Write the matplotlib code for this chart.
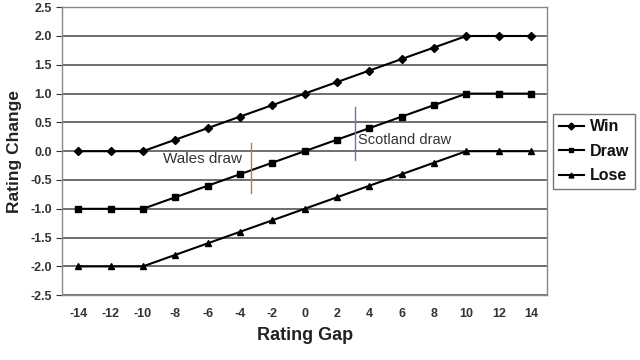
import matplotlib
matplotlib.use("Agg")
import matplotlib.pyplot as plt

plt.rcParams['font.family'] = ['Liberation Sans', 'DejaVu Sans']

rating_gap = [-14, -12, -10, -8, -6, -4, -2, 0, 2, 4, 6, 8, 10, 12, 14]
win = [0.0, 0.0, 0.0, 0.2, 0.4, 0.6, 0.8, 1.0, 1.2, 1.4, 1.6, 1.8, 2.0, 2.0, 2.0]
draw = [-1.0, -1.0, -1.0, -0.8, -0.6, -0.4, -0.2, 0.0, 0.2, 0.4, 0.6, 0.8, 1.0, 1.0, 1.0]
lose = [-2.0, -2.0, -2.0, -1.8, -1.6, -1.4, -1.2, -1.0, -0.8, -0.6, -0.4, -0.2, 0.0, 0.0, 0.0]
y_ticks = [-2.5, -2.0, -1.5, -1.0, -0.5, 0.0, 0.5, 1.0, 1.5, 2.0, 2.5]

wales_x = -3.3
wales_y = (-0.73, 0.14)
scotland_x = 3.1
scotland_y = (-0.16, 0.76)

fig = plt.figure(figsize=(6.4, 3.6), dpi=100)
ax = fig.add_axes([0.097, 0.18, 0.758, 0.80])

for yv in y_ticks:
    ax.axhline(yv, color='#555555', lw=1.2, zorder=1)

ax.plot(rating_gap, win, color='black', lw=1.5, marker='D', ms=4, label='Win', zorder=3)
ax.plot(rating_gap, draw, color='black', lw=1.5, marker='s', ms=5, label='Draw', zorder=3)
ax.plot(rating_gap, lose, color='black', lw=1.5, marker='^', ms=5, label='Lose', zorder=3)

ax.plot([wales_x, wales_x], wales_y, color='#c0785a', lw=1.0, zorder=4)
ax.plot([scotland_x, scotland_x], scotland_y, color='#5a7fa8', lw=1.0, zorder=4)
ax.text(-8.75, -0.13, 'Wales draw', fontsize=11, color='#333333', va='center', ha='left', zorder=5)
ax.text(3.3, 0.2, 'Scotland draw', fontsize=10.5, color='#333333', va='center', ha='left', zorder=5)

ax.set_xlim(-15, 15)
ax.set_ylim(-2.5, 2.5)
ax.set_xticks(rating_gap)
ax.set_xticklabels([str(v) for v in rating_gap])
ax.set_yticks(y_ticks)
ax.set_yticklabels([f'{v:.1f}' for v in y_ticks])
ax.tick_params(axis='x', length=0, labelsize=9, colors='#333333', pad=9)
ax.tick_params(axis='y', length=4, labelsize=9, colors='#333333', direction='out')
for lab in ax.get_xticklabels() + ax.get_yticklabels():
    lab.set_fontweight('bold')
for s in ax.spines.values():
    s.set_color('#888888')
    s.set_linewidth(1.0)

ax.set_xlabel('Rating Gap', fontsize=13, fontweight='bold', color='#222222', labelpad=5)
ax.set_ylabel('Rating Change', fontsize=12.5, fontweight='bold', color='#222222', labelpad=6)

leg = fig.legend(loc='center left', bbox_to_anchor=(0.864, 0.58), frameon=True,
                 fancybox=False, edgecolor='#555555', fontsize=11.5, handlelength=1.6,
                 borderpad=0.35, labelspacing=0.6, handletextpad=0.35, borderaxespad=0)
for t in leg.get_texts():
    t.set_fontweight('bold')
    t.set_color('#111111')
for h in leg.legend_handles:
    h.set_markersize(3.5)

fig.savefig('out.png', dpi=100)
